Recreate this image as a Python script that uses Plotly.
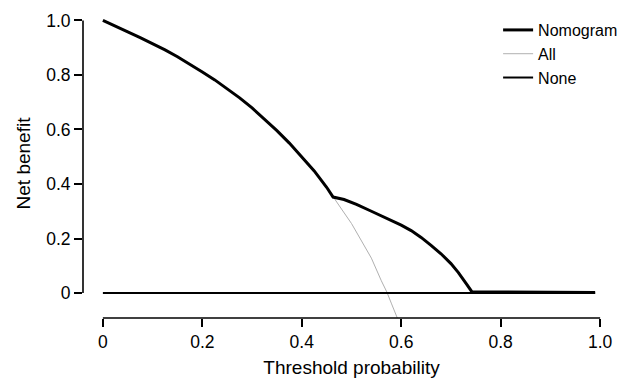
import plotly.graph_objects as go

# Threshold probabilities and net benefit
nom_x = [0.0, 0.025, 0.05, 0.075, 0.10, 0.125, 0.15, 0.175, 0.20, 0.225, 0.25,
         0.275, 0.30, 0.325, 0.35, 0.375, 0.40, 0.425, 0.45, 0.463,
         0.485, 0.51, 0.54, 0.56, 0.58, 0.60, 0.62, 0.64, 0.66, 0.68, 0.70,
         0.715, 0.73, 0.742, 0.80, 0.90, 0.99]
nom_y = [1.0, 0.980, 0.958, 0.937, 0.915, 0.892, 0.867, 0.840, 0.811, 0.782, 0.750,
         0.716, 0.679, 0.639, 0.596, 0.550, 0.501, 0.448, 0.388, 0.352,
         0.343, 0.325, 0.300, 0.284, 0.266, 0.249, 0.229, 0.204, 0.175, 0.144, 0.108,
         0.075, 0.036, 0.005, 0.004, 0.003, 0.002]

all_x = [0.0, 0.025, 0.05, 0.075, 0.10, 0.125, 0.15, 0.175, 0.20, 0.225, 0.25,
         0.275, 0.30, 0.325, 0.35, 0.375, 0.40, 0.425, 0.45, 0.463,
         0.48, 0.50, 0.52, 0.54, 0.56, 0.571, 0.58, 0.60]
all_y = [1.0, 0.980, 0.958, 0.937, 0.915, 0.892, 0.867, 0.840, 0.811, 0.782, 0.750,
         0.716, 0.679, 0.639, 0.596, 0.550, 0.501, 0.448, 0.388, 0.352,
         0.308, 0.255, 0.192, 0.128, 0.045, 0.004, -0.037, -0.127]

none_x = [0.0, 0.99]
none_y = [0.0, 0.0]

tick_vals = [0, 0.2, 0.4, 0.6, 0.8, 1.0]
tick_text = ["0", "0.2", "0.4", "0.6", "0.8", "1.0"]

FONT = "Arial, Liberation Sans, sans-serif"

fig = go.Figure()
fig.add_trace(go.Scatter(x=all_x, y=all_y, mode="lines", name="All", legendrank=2,
                         line=dict(color="#b0b0b0", width=1)))
fig.add_trace(go.Scatter(x=none_x, y=none_y, mode="lines", name="None", legendrank=3,
                         line=dict(color="black", width=2)))
fig.add_trace(go.Scatter(x=nom_x, y=nom_y, mode="lines", name="Nomogram", legendrank=1,
                         line=dict(color="black", width=3)))

# R-style axis lines spanning only the tick range
fig.add_shape(type="line", xref="x", yref="paper", x0=0, x1=1, y0=0, y1=0,
              line=dict(color="black", width=1.6))
fig.add_shape(type="line", xref="paper", yref="y", x0=0, x1=0, y0=0, y1=1,
              line=dict(color="black", width=1.6))

fig.update_layout(
    width=629, height=378,
    margin=dict(l=75, r=17, t=0.5, b=68, autoexpand=False),
    paper_bgcolor="white", plot_bgcolor="white",
    font=dict(family=FONT, color="black"),
    legend=dict(x=0.773, y=0.987, xanchor="left", yanchor="top",
                font=dict(size=16, family=FONT),
                bgcolor="rgba(0,0,0,0)", itemwidth=30),
    xaxis=dict(range=[-0.04, 1.04], showgrid=False, zeroline=False, showline=False,
               automargin=False,
               tickvals=tick_vals, ticktext=tick_text, ticks="outside",
               ticklen=8, tickwidth=1.6, tickcolor="black",
               tickfont=dict(size=17.5, family=FONT),
               title=dict(text="Threshold probability", font=dict(size=19, family=FONT),
                          standoff=9)),
    yaxis=dict(range=[-0.0916, 1.042], showgrid=False, zeroline=False, showline=False,
               automargin=False,
               tickvals=tick_vals, ticktext=tick_text, ticks="outside",
               ticklen=8, tickwidth=1.6, tickcolor="black",
               tickfont=dict(size=17.5, family=FONT),
               title=dict(text="Net benefit", font=dict(size=19, family=FONT),
                          standoff=10)),
)

fig.write_html("out.html")
